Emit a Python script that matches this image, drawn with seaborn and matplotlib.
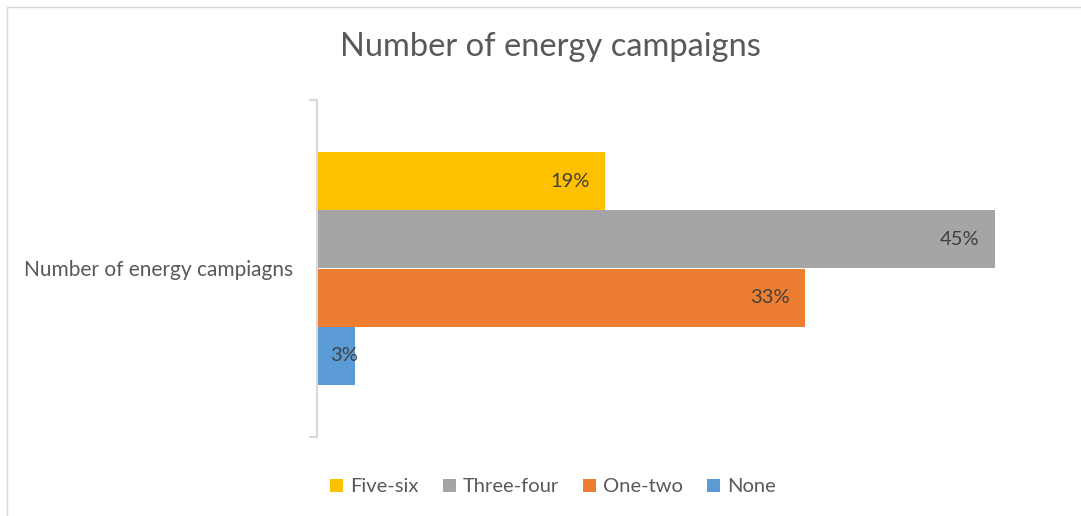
import matplotlib
matplotlib.use("Agg")
import matplotlib.pyplot as plt
import seaborn as sns
import pandas as pd
from matplotlib.patches import Rectangle

categories = ["Number of energy campiagns"]
series = ["Five-six", "Three-four", "One-two", "None"]
values = [19.1, 45.0, 32.4, 2.5]
value_labels = ["19%", "45%", "33%", "3%"]
colors = ["#FFC000", "#A5A5A5", "#ED7D31", "#5B9BD5"]
title = "Number of energy campaigns"

sns.set_theme(style="white")
plt.rcParams["font.family"] = ["Lato", "DejaVu Sans"]

df = pd.DataFrame({
    "category": categories * len(series),
    "series": series,
    "value": values,
})

W, H = 1081, 516
fig = plt.figure(figsize=(W / 100, H / 100), dpi=100)
ax = fig.add_axes([317 / W, (H - 437) / H, 753 / W, 337 / H])

sns.barplot(data=df, y="category", x="value", hue="series", hue_order=series,
            palette=colors, orient="h", width=0.69, saturation=1, ax=ax,
            edgecolor="none", linewidth=0, legend=True)

ax.set_xlim(0, 50)
ax.set_ylim(0.5, -0.5)

# labels
for cont, lab, v in zip(ax.containers, value_labels, values):
    bar = cont.patches[0]
    yc = bar.get_y() + bar.get_height() / 2
    if v < 6:
        ax.annotate(lab, xy=(0, yc), xytext=(13, 0), textcoords="offset pixels",
                    ha="left", va="center", fontsize=14.5, color="#404040")
    else:
        ax.annotate(lab, xy=(v, yc), xytext=(-15, 0), textcoords="offset pixels",
                    ha="right", va="center", fontsize=14.5, color="#404040")

for s in ["top", "right", "bottom"]:
    ax.spines[s].set_visible(False)
ax.spines["left"].set_color("#D9D9D9")
ax.spines["left"].set_linewidth(1.5)
ax.set_xticks([])
ax.set_xlabel("")
ax.set_ylabel("")
ax.set_yticks([0])
ax.set_yticklabels(categories)
ax.tick_params(axis="y", which="major", left=True, length=0, pad=17,
               labelsize=15, labelcolor="#595959")
ax.set_yticks([-0.5, 0.5], minor=True)
ax.tick_params(axis="y", which="minor", left=True, length=6, width=1.5, color="#D9D9D9")

fig.text(550 / W, (H - 47) / H, title, ha="center", va="center",
         fontsize=23.5, color="#595959")

leg = ax.legend(loc="center", bbox_to_anchor=(553 / W, (H - 487) / H),
                bbox_transform=fig.transFigure, ncol=4, frameon=False,
                fontsize=14.5, handlelength=0.65, handleheight=0.65,
                handletextpad=0.35, columnspacing=1.2)
for t in leg.get_texts():
    t.set_color("#595959")

fig.patches.append(Rectangle((7 / W, -0.1), 1.2, (H - 7) / H + 0.1,
                             transform=fig.transFigure, fill=False,
                             edgecolor="#D9D9D9", linewidth=1))

fig.savefig("out.png", dpi=100, facecolor="white")
